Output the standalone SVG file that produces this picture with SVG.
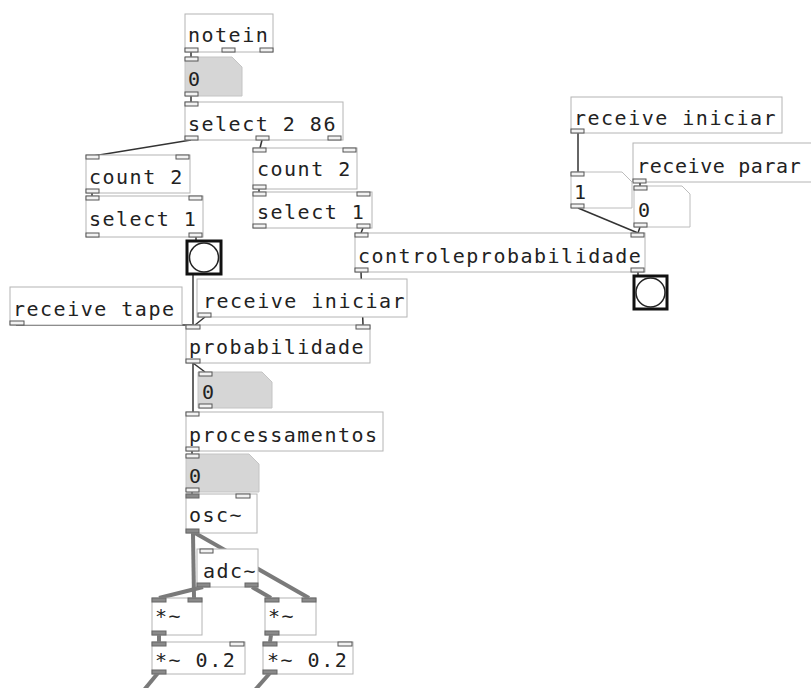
<svg xmlns="http://www.w3.org/2000/svg" width="811" height="688" viewBox="0 0 811 688">
<defs>
<style>
.box{fill:#fff;stroke:#b4b4b4;stroke-width:1}
.num{fill:#d6d6d6;stroke:#c4c4c4;stroke-width:1}
.numw{fill:#fff;stroke:#bcbcbc;stroke-width:1}
.io{fill:#f2f2f2;stroke:#555;stroke-width:1}
.sio{fill:#8a8a8a;stroke:#666;stroke-width:1}
.t{font-family:"DejaVu Sans Mono","Liberation Mono",monospace;font-size:20px;letter-spacing:1.5px;fill:#222}
.c{stroke:#333;stroke-width:1.5;fill:none}
.s{stroke:#7a7a7a;stroke-width:4;fill:none}
.bng{fill:#fff;stroke:#111;stroke-width:3}
.bc{fill:none;stroke:#222;stroke-width:1.5}
</style>
</defs>
<rect width="811" height="688" fill="#fff"/>

<g id="connectors">
<line class="c" x1="191" y1="51" x2="191" y2="57"/>
<line class="c" x1="191" y1="95" x2="191" y2="102"/>
<line class="c" x1="191" y1="140" x2="93" y2="156"/>
<line class="c" x1="262" y1="140" x2="260" y2="148"/>
<line class="c" x1="92" y1="193" x2="92" y2="196"/>
<line class="c" x1="259" y1="189" x2="259" y2="193"/>
<line class="c" x1="196" y1="237" x2="196" y2="241"/>
<line class="c" x1="363" y1="228" x2="361" y2="233"/>
<line class="c" x1="578" y1="133" x2="578" y2="172"/>
<line class="c" x1="578" y1="208" x2="638" y2="233"/>
<line class="c" x1="640" y1="183" x2="640" y2="186"/>
<line class="c" x1="640" y1="227" x2="638" y2="233"/>
<line class="c" x1="638" y1="272" x2="638" y2="276"/>
<line class="c" x1="361" y1="272" x2="363" y2="325"/>
<line class="c" x1="193" y1="274" x2="193" y2="325"/>
<line class="c" x1="16" y1="325" x2="192" y2="325"/>
<line class="c" x1="205" y1="317" x2="195" y2="325"/>
<line class="c" x1="193" y1="363" x2="205" y2="372"/>
<line class="c" x1="193" y1="363" x2="193" y2="412"/>
<line class="c" x1="192" y1="451" x2="192" y2="454"/>
<line class="c" x1="192" y1="492" x2="192" y2="494"/>
<line class="s" x1="193" y1="533" x2="194" y2="598"/>
<line class="s" x1="195" y1="533" x2="309" y2="598"/>
<line class="s" x1="203" y1="587" x2="159" y2="598"/>
<line class="s" x1="252" y1="587" x2="271" y2="598"/>
<line class="s" x1="159" y1="635" x2="159" y2="642"/>
<line class="s" x1="271" y1="635" x2="270" y2="642"/>
<line class="s" x1="158" y1="673" x2="144" y2="690"/>
<line class="s" x1="270" y1="673" x2="255" y2="690"/>
</g>

<g id="notein">
<rect class="box" x="185" y="14" width="88" height="38"/>
<text class="t" x="188" y="42">notein</text>
<rect class="io" x="185" y="48" width="13" height="4"/>
<rect class="io" x="222" y="48" width="13" height="4"/>
<rect class="io" x="260" y="48" width="13" height="4"/>
</g>

<g id="num1">
<polygon class="num" points="185,57 232,57 242,67 242,96 185,96"/>
<text class="t" x="188" y="86">0</text>
<rect class="io" x="185" y="57" width="13" height="4"/>
<rect class="io" x="185" y="92" width="13" height="4"/>
</g>

<g id="select286">
<rect class="box" x="185" y="102" width="158" height="38"/>
<text class="t" x="188" y="131">select 2 86</text>
<rect class="io" x="185" y="102" width="13" height="4"/>
<rect class="io" x="256" y="136" width="13" height="4"/>
<rect class="io" x="185" y="136" width="13" height="4"/>
<rect class="io" x="328" y="136" width="13" height="4"/>
</g>

<g id="countL">
<rect class="box" x="86" y="155" width="104" height="38"/>
<text class="t" x="89" y="184">count 2</text>
<rect class="io" x="86" y="155" width="13" height="4"/>
<rect class="io" x="176" y="155" width="13" height="4"/>
<rect class="io" x="86" y="189" width="13" height="4"/>
</g>

<g id="selectL">
<rect class="box" x="86" y="196" width="117" height="41"/>
<text class="t" x="89" y="226">select 1</text>
<rect class="io" x="86" y="196" width="13" height="4"/>
<rect class="io" x="189" y="196" width="13" height="4"/>
<rect class="io" x="86" y="233" width="13" height="4"/>
<rect class="io" x="189" y="233" width="13" height="4"/>
</g>

<g id="bangL">
<rect class="bng" x="187" y="241" width="34" height="33"/>
<circle class="bc" cx="204" cy="257.5" r="14.5"/>
</g>

<g id="countR">
<rect class="box" x="253" y="148" width="104" height="41"/>
<text class="t" x="257" y="176">count 2</text>
<rect class="io" x="253" y="148" width="13" height="4"/>
<rect class="io" x="343" y="148" width="13" height="4"/>
<rect class="io" x="253" y="185" width="13" height="4"/>
</g>

<g id="selectR">
<rect class="box" x="253" y="192" width="119" height="36"/>
<text class="t" x="257" y="219">select 1</text>
<rect class="io" x="253" y="192" width="13" height="4"/>
<rect class="io" x="357" y="192" width="13" height="4"/>
<rect class="io" x="253" y="224" width="13" height="4"/>
<rect class="io" x="357" y="224" width="13" height="4"/>
</g>

<g id="receiveIniciarR">
<rect class="box" x="571" y="97" width="211" height="36"/>
<text class="t" x="574" y="125">receive iniciar</text>
<rect class="io" x="571" y="129" width="13" height="4"/>
</g>

<g id="receiveParar">
<rect class="box" x="633" y="143" width="190" height="39"/>
<text class="t" x="637" y="173" style="letter-spacing:0.6px">receive parar</text>
<rect class="io" x="633" y="179" width="13" height="4"/>
</g>

<g id="num1box">
<polygon class="numw" points="571,172 622,172 632,182 632,208 571,208"/>
<text class="t" x="574" y="199">1</text>
<rect class="io" x="571" y="172" width="13" height="4"/>
<rect class="io" x="571" y="204" width="13" height="4"/>
</g>

<g id="num0box">
<polygon class="numw" points="634,186 682,186 690,194 690,227 634,227"/>
<text class="t" x="638" y="217">0</text>
<rect class="io" x="634" y="186" width="13" height="4"/>
<rect class="io" x="634" y="223" width="13" height="4"/>
</g>

<g id="controleprobabilidade">
<rect class="box" x="355" y="233" width="290" height="39"/>
<text class="t" x="358" y="263">controleprobabilidade</text>
<rect class="io" x="355" y="233" width="13" height="4"/>
<rect class="io" x="631" y="233" width="13" height="4"/>
<rect class="io" x="355" y="268" width="13" height="4"/>
<rect class="io" x="631" y="268" width="13" height="4"/>
</g>

<g id="bangR">
<rect class="bng" x="634" y="276" width="33" height="33"/>
<circle class="bc" cx="650.5" cy="292.5" r="14.5"/>
</g>

<g id="receiveTape">
<rect class="box" x="10" y="287" width="172" height="38"/>
<text class="t" x="13" y="316">receive tape</text>
<rect class="io" x="10" y="321" width="14" height="4"/>
</g>

<g id="receiveIniciarM">
<rect class="box" x="197" y="279" width="210" height="38"/>
<text class="t" x="203" y="308">receive iniciar</text>
<rect class="io" x="198" y="313" width="13" height="4"/>
</g>

<g id="probabilidade">
<rect class="box" x="186" y="325" width="184" height="38"/>
<text class="t" x="189" y="354">probabilidade</text>
<rect class="io" x="186" y="325" width="14" height="4"/>
<rect class="io" x="356" y="325" width="14" height="4"/>
<rect class="io" x="186" y="359" width="14" height="4"/>
</g>

<g id="num2">
<polygon class="num" points="198,372 262,372 272,382 272,408 198,408"/>
<text class="t" x="202" y="399">0</text>
<rect class="io" x="199" y="372" width="13" height="4"/>
<rect class="io" x="199" y="404" width="13" height="4"/>
</g>

<g id="processamentos">
<rect class="box" x="186" y="412" width="197" height="39"/>
<text class="t" x="189" y="442">processamentos</text>
<rect class="io" x="186" y="412" width="13" height="4"/>
<rect class="io" x="186" y="447" width="13" height="4"/>
</g>

<g id="num3">
<polygon class="num" points="186,454 249,454 259,464 259,492 186,492"/>
<text class="t" x="189" y="483">0</text>
<rect class="io" x="186" y="454" width="13" height="4"/>
<rect class="io" x="186" y="488" width="13" height="4"/>
</g>

<g id="osc">
<rect class="box" x="186" y="494" width="71" height="39"/>
<text class="t" x="189" y="522">osc~</text>
<rect class="sio" x="186" y="494" width="13" height="4"/>
<rect class="io" x="236" y="494" width="14" height="4"/>
<rect class="sio" x="186" y="529" width="13" height="4"/>
</g>

<g id="adc">
<rect class="box" x="197" y="549" width="61" height="38"/>
<text class="t" x="203" y="578">adc~</text>
<rect class="io" x="200" y="549" width="13" height="4"/>
<rect class="sio" x="197" y="583" width="13" height="4"/>
<rect class="sio" x="245" y="583" width="13" height="4"/>
</g>

<g id="mulL">
<rect class="box" x="152" y="598" width="50" height="37"/>
<text class="t" x="155" y="623">*~</text>
<rect class="sio" x="152" y="598" width="14" height="4"/>
<rect class="sio" x="188" y="598" width="14" height="4"/>
<rect class="sio" x="152" y="631" width="14" height="4"/>
</g>

<g id="mulR">
<rect class="box" x="265" y="598" width="51" height="37"/>
<text class="t" x="268" y="623">*~</text>
<rect class="sio" x="265" y="598" width="14" height="4"/>
<rect class="sio" x="302" y="598" width="14" height="4"/>
<rect class="sio" x="265" y="631" width="14" height="4"/>
</g>

<g id="mul02L">
<rect class="box" x="152" y="642" width="93" height="32"/>
<text class="t" x="155" y="667">*~ 0.2</text>
<rect class="sio" x="152" y="642" width="14" height="4"/>
<rect class="io" x="230" y="642" width="14" height="4"/>
<rect class="sio" x="152" y="670" width="14" height="4"/>
</g>

<g id="mul02R">
<rect class="box" x="263" y="642" width="90" height="32"/>
<text class="t" x="267" y="667">*~ 0.2</text>
<rect class="sio" x="263" y="642" width="14" height="4"/>
<rect class="io" x="338" y="642" width="14" height="4"/>
<rect class="sio" x="263" y="670" width="14" height="4"/>
</g>
</svg>
